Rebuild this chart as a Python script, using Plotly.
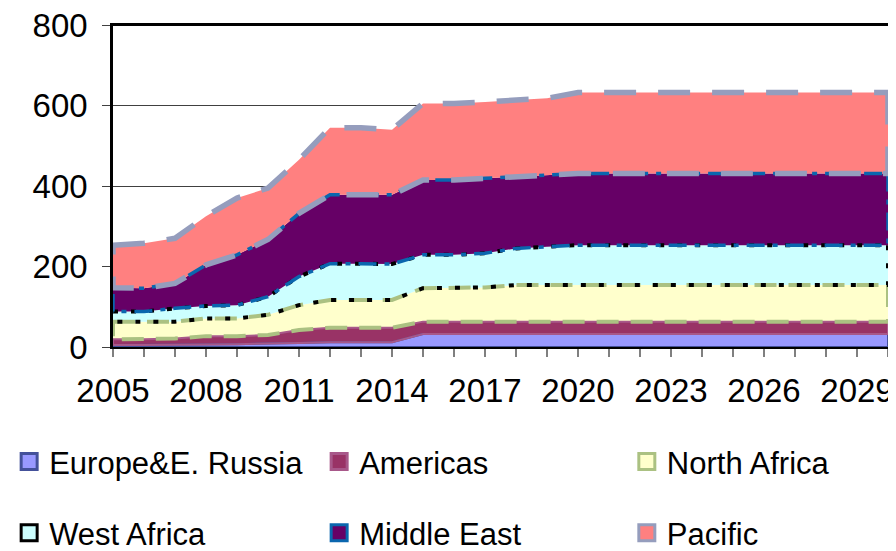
import numpy as np
import plotly.graph_objects as go

# ---- data ----
years = [2005, 2006, 2007, 2008, 2009, 2010, 2011, 2012, 2013, 2014, 2015, 2016, 2017,
         2018, 2019, 2020, 2021, 2022, 2023, 2024, 2025, 2026, 2027, 2028, 2029, 2030]

europe = [5, 5, 5, 6, 7, 8, 10, 12, 12, 12, 32, 32, 32,
          32, 32, 32, 32, 32, 32, 32, 32, 32, 32, 32, 32, 32]
americas = [14, 14, 16, 21, 20, 22, 32, 36, 36, 36, 31, 31, 31,
            31, 31, 31, 31, 31, 31, 31, 31, 31, 31, 31, 31, 31]
north_africa = [44, 44, 42, 44, 44, 50, 62, 69, 69, 69, 83, 83, 85,
                91, 91, 91, 91, 91, 91, 91, 91, 91, 91, 91, 91, 91]
west_africa = [25, 25, 33, 31, 33, 45, 71, 90, 90, 89, 83, 83, 85,
               91, 95, 99, 99, 99, 99, 99, 99, 99, 99, 99, 99, 99]
middle_east = [59, 58, 62, 102, 125, 142, 157, 171, 171, 172, 186, 186, 186,
               178, 178, 178, 178, 178, 178, 178, 178, 178, 178, 178, 178, 178]
pacific = [106, 112, 112, 121, 141, 128, 133, 167, 167, 162, 190, 190, 190,
           189, 191, 201, 201, 201, 201, 201, 201, 201, 201, 201, 201, 201]

names = ["Europe&E. Russia", "Americas", "North Africa", "West Africa", "Middle East", "Pacific"]
y_ticks = [0, 200, 400, 600, 800]
x_labels = [str(y) if (y - 2005) % 3 == 0 else "" for y in years]

# ---- styles ----
fills = ["#9999FF", "#993366", "#FFFFCC", "#CCFFFF", "#660066", "#FF8080"]
borders = ["#44519A", "#A8588A", "#ABC182", "#000000", "#0A66AE", "#959DBD"]
widths = [2, 2, 4, 4, 3.5, 5.5]
dashes = ["solid", "solid", "22px,12px", "5px,13px", "18px,8px,5px,8px", "32px,22px"]

values = [europe, americas, north_africa, west_africa, middle_east, pacific]
tops = np.cumsum(np.array(values, dtype=float), axis=0)
bots = np.vstack([np.zeros(len(years)), tops[:-1]])

fig = go.Figure()

# filled areas (top edge outlined)
for i, name in enumerate(names):
    fig.add_trace(go.Scatter(
        x=years, y=tops[i], mode="lines",
        fill="tozeroy" if i == 0 else "tonexty",
        fillcolor=fills[i],
        line=dict(color=borders[i], width=widths[i], dash=dashes[i]),
        name=name, showlegend=False, hoverinfo="skip",
    ))

# remaining outline of each area (right side, bottom edge, left side)
for i, name in enumerate(names):
    xs = [years[-1]] + years[::-1] + [years[0]]
    ys = [tops[i][-1]] + list(bots[i][::-1]) + [tops[i][0]]
    fig.add_trace(go.Scatter(
        x=xs, y=ys, mode="lines",
        line=dict(color=borders[i], width=widths[i], dash=dashes[i]),
        showlegend=False, hoverinfo="skip",
    ))

# legend entries: one legend box per entry, laid out as 3 columns x 2 rows
legend_ids = ["legend", "legend2", "legend3", "legend4", "legend5", "legend6"]
col_x = [-0.134, 0.266, 0.663]
row_y = [-0.357, -0.578]
for i, name in enumerate(names):
    fig.add_trace(go.Scatter(
        x=[None], y=[None], mode="markers", name=name,
        marker=dict(symbol="square", size=16, color=fills[i],
                    line=dict(color=borders[i], width=3)),
        legend=legend_ids[i],
    ))

font_family = "Liberation Sans, Arial, sans-serif"
layout_legends = {}
for i, lid in enumerate(legend_ids):
    layout_legends[lid] = dict(
        orientation="h", x=col_x[i % 3], xanchor="left",
        y=row_y[i // 3], yanchor="middle",
        font=dict(size=31, family=font_family, color="black"),
        bgcolor="rgba(0,0,0,0)",
    )

# the page body has an 8px default margin, so the figure is sized to fit the window
fig.update_layout(
    width=888, height=543,
    margin=dict(l=105, r=8, t=17, b=204, autoexpand=False),
    paper_bgcolor="white", plot_bgcolor="white",
    font=dict(family=font_family, size=33, color="black"),
    shapes=[dict(type="line", xref="paper", yref="paper", x0=0, x1=1, y0=1, y1=1,
                 line=dict(color="black", width=2), layer="above")],
    **layout_legends,
)

fig.update_xaxes(
    range=[2005, 2030], tickvals=years, ticktext=x_labels,
    ticks="outside", ticklen=8, tickcolor="#808080", tickwidth=2,
    ticklabelstandoff=5, ticklabeloverflow="allow",
    showgrid=False, zeroline=False,
    showline=True, linecolor="black", linewidth=2, mirror=True,
    tickfont=dict(size=33),
)
fig.update_yaxes(
    range=[0, 800], tickvals=y_ticks,
    ticks="outside", ticklen=8, tickcolor="#404040", tickwidth=1,
    ticklabelstandoff=8, ticklabeloverflow="allow",
    showgrid=True, gridcolor="#404040", gridwidth=1, zeroline=False,
    showline=True, linecolor="black", linewidth=2.5, mirror=True,
    tickfont=dict(size=33),
)

fig.write_html("out.html")
